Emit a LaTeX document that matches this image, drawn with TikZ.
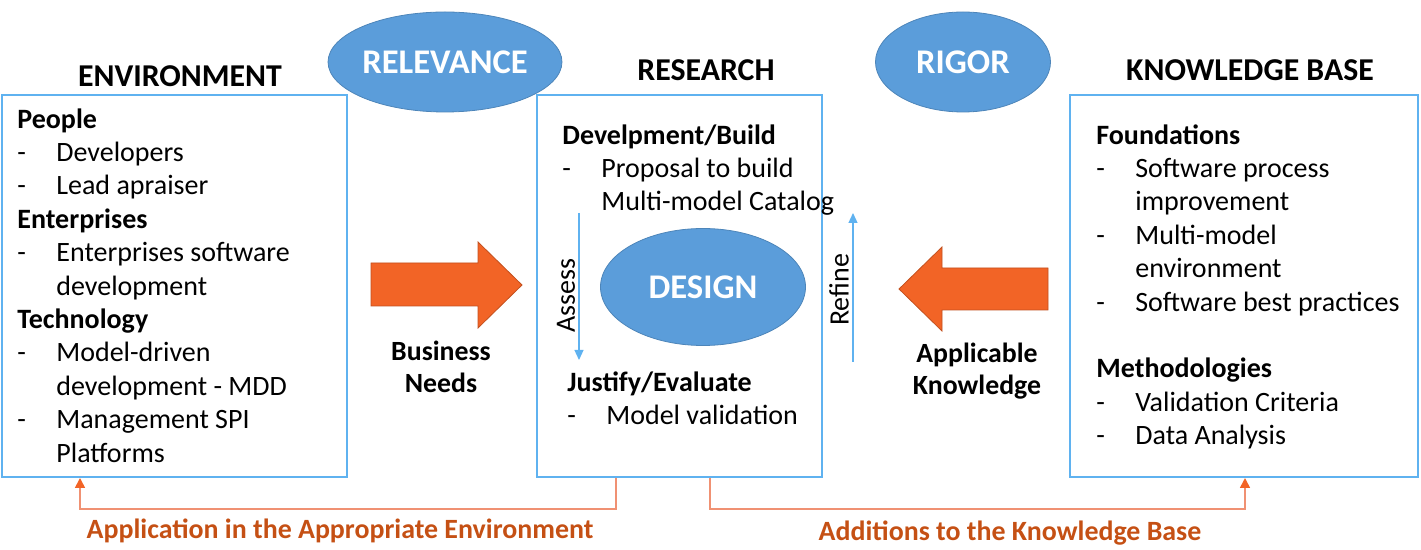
\documentclass[tikz,border=0pt]{standalone}
\usepackage{fontspec}
\setmainfont{Carlito}
\usetikzlibrary{calc,shapes.geometric,arrows.meta}
\definecolor{boxblue}{RGB}{95,178,240}
\definecolor{ellblue}{RGB}{91,157,218}
\definecolor{arrorange}{RGB}{242,100,38}
\definecolor{lineorange}{RGB}{240,145,115}
\definecolor{txtorange}{RGB}{197,80,20}
\newcommand{\itm}[1]{\makebox[19.5pt][l]{-}#1}
\newcommand{\cont}[1]{\hspace*{19.5pt}#1}
\tikzset{panel/.style={draw=boxblue, line width=1pt, minimum height=191pt, inner sep=0pt},
         head/.style={font=\fontsize{15.9}{18}\selectfont\bfseries},
         oval/.style={ellipse, fill=ellblue, draw=ellblue!85!black, line width=0.4pt, inner sep=0pt,
                      text=white, font=\fontsize{17.3}{19}\selectfont\bfseries},
         body/.style={align=left, inner sep=0pt, anchor=north west,
                      font=\fontsize{14}{16.7}\selectfont},
         label/.style={align=center, inner sep=0pt, font=\fontsize{13.9}{16}\selectfont\bfseries},
         bigarrow/.style={fill=arrorange, draw=arrorange!80!black, line width=0.4pt},
         loop/.style={draw=boxblue, line width=0.6pt, -{Triangle[length=5pt,width=4.5pt]}},
         back/.style={draw=lineorange, line width=0.8pt, -{Triangle[length=5pt,width=5pt,color=arrorange]}},
         backtext/.style={text=txtorange, font=\fontsize{13.95}{16}\selectfont\bfseries}}

\begin{document}
\begin{tikzpicture}[x=0.5pt, y=-0.5pt]
	\useasboundingbox (0,0) rectangle (1421,550);

	% the three panels
	\node[panel, minimum width=172.5pt] (environment) at (174.5,286) {};
	\node[panel, minimum width=142.5pt] (research) at (679.5,286) {};
	\node[panel, minimum width=174pt] (knowledge) at (1244,286) {};

	\node[head] (envtitle) at (180,76) {ENVIRONMENT};
	\node[head] (restitle) at (706,70) {RESEARCH};
	\node[head] (kbtitle) at (1250,70) {KNOWLEDGE BASE};

	\node[oval, minimum width=100pt, minimum height=50pt] (relevance) at (445,62) {RELEVANCE};
	\node[oval, minimum width=87.5pt, minimum height=50pt] (rigor) at (963,62) {RIGOR};
	\node[oval, minimum width=102.5pt, minimum height=58.5pt] (design) at (703,287) {DESIGN};

	% panel texts
	\node[body] (envtext) at (17,108) {\textbf{People}\\ \itm{Developers}\\ \itm{Lead apraiser}\\
		\textbf{Enterprises}\\ \itm{Enterprises software}\\ \cont{development}\\
		\textbf{Technology}\\ \itm{Model-driven}\\ \cont{development - MDD}\\
		\itm{Management SPI}\\ \cont{Platforms}};
	\node[body] (buildtext) at (562,124) {\textbf{Develpment/Build}\\ \itm{Proposal to build}\\
		\cont{Multi-model Catalog}};
	\node[body] (evaltext) at (567,371) {\textbf{Justify/Evaluate}\\ \itm{Model validation}};
	\node[body] (kbtext) at (1096,124) {\textbf{Foundations}\\ \itm{Software process}\\
		\cont{improvement}\\ \itm{Multi-model}\\ \cont{environment}\\ \itm{Software best practices}\\[16.7pt]
		\textbf{Methodologies}\\ \itm{Validation Criteria}\\ \itm{Data Analysis}};

	% block arrows
	\fill[bigarrow] (371,263) -- (478,263) -- (478,242) -- (522,285) -- (478,328) -- (478,306)
		-- (371,306) -- cycle;
	\fill[bigarrow] (1048,268) -- (942,268) -- (942,247) -- (899,289) -- (942,331) -- (942,310)
		-- (1048,310) -- cycle;
	\node[label] (needs) at (441,367) {Business\\ Needs};
	\node[label] (applicable) at (977,371) {Applicable\\ Knowledge};

	% assess / refine cycle
	\coordinate (assesstop) at (579,213);
	\coordinate (assessbot) at (579,360);
	\coordinate (refinebot) at (853,362);
	\coordinate (refinetop) at (853,213);
	\draw[loop] (assesstop) -- (assessbot);
	\draw[loop] (refinebot) -- (refinetop);
	\node[rotate=90, inner sep=0pt, font=\fontsize{14}{16}\selectfont] (assess) at (566,296) {Assess};
	\node[rotate=90, inner sep=0pt, font=\fontsize{14}{16}\selectfont] (refine) at (839,290) {Refine};

	% feedback lines
	\draw[back] (research.south -| 616,0) -- ++(0,31) -| (environment.south -| 80,0);
	\draw[back] (research.south -| 710,0) -- ++(0,31) -| (knowledge.south -| 1245,0);
	\node[backtext] (apptext) at (340,531) {Application in the Appropriate Environment};
	\node[backtext] (addtext) at (1010,533) {Additions to the Knowledge Base};
\end{tikzpicture}
\end{document}
